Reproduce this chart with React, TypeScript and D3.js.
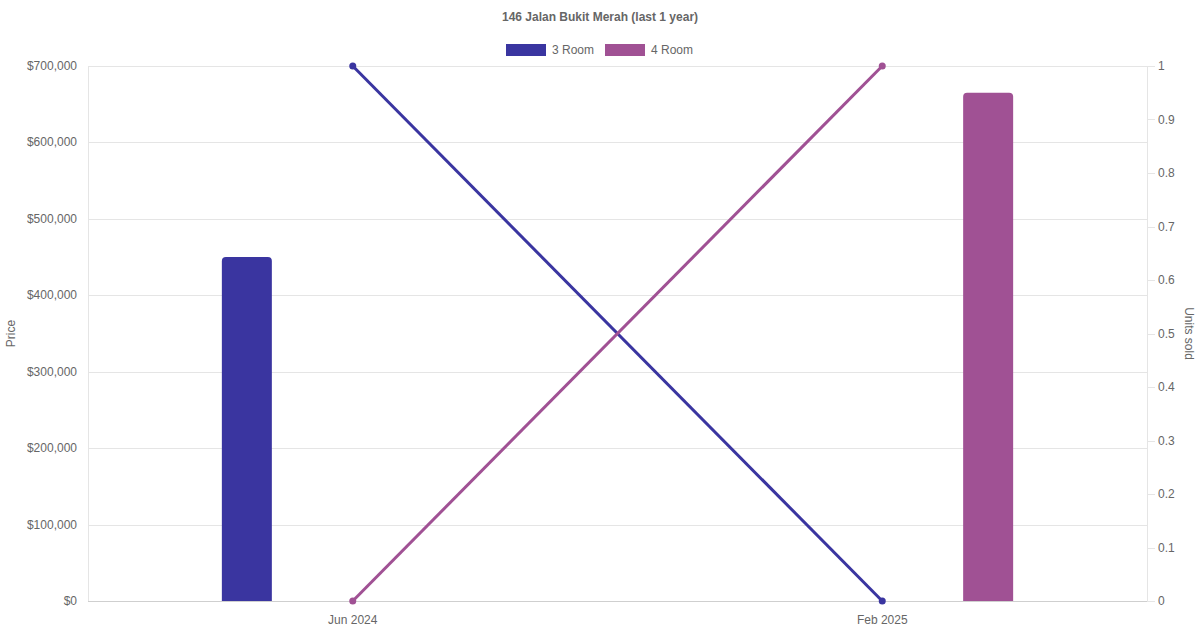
import React, { useEffect, useRef } from 'react';
import * as d3 from 'd3';

const categories = ['Jun 2024', 'Feb 2025'];
const seriesNames = ['3 Room', '4 Room'];
const seriesColors = ['#3a35a0', '#a05194'];
const priceThree: (number | null)[] = [450000, null];
const priceFour: (number | null)[] = [null, 665000];
const unitsThree = [1, 0];
const unitsFour = [0, 1];
const priceTicks = [0, 100000, 200000, 300000, 400000, 500000, 600000, 700000];
const unitTicks = [0, 0.1, 0.2, 0.3, 0.4, 0.5, 0.6, 0.7, 0.8, 0.9, 1];

const W = 1200;
const H = 630;
const FONT = '"Liberation Sans", Arial, Helvetica, sans-serif';

export default function App() {
  const svgRef = useRef<SVGSVGElement>(null);

  useEffect(() => {
    document.body.style.margin = '0';
    if (!svgRef.current) return;
    const svg = d3.select(svgRef.current);
    svg.selectAll('*').remove();

    const margin = { top: 66, right: 53, bottom: 29, left: 88 };
    const left = margin.left;
    const right = W - margin.right;
    const top = margin.top;
    const bottom = H - margin.bottom;

    const x = d3.scaleBand<string>().domain(categories).range([left, right]).padding(0);
    const cw = x.bandwidth();
    const inner = d3.scaleBand<string>().domain(seriesNames).range([0.1 * cw, 0.9 * cw]).padding(0);
    const barW = Math.min(50, inner.bandwidth() * 0.9);

    const yPrice = d3.scaleLinear().domain([0, 700000]).range([bottom, top]);
    const yUnits = d3.scaleLinear().domain([0, 1]).range([bottom, top]);

    // Title
    svg.append('text')
      .attr('x', W / 2).attr('y', 21)
      .attr('text-anchor', 'middle')
      .attr('font-family', FONT).attr('font-size', 12).attr('font-weight', 'bold')
      .attr('fill', '#666')
      .text('146 Jalan Bukit Merah (last 1 year)');

    // Legend
    const legend = svg.append('g');
    const legendX = [506, 605];
    seriesNames.forEach((name, i) => {
      legend.append('rect')
        .attr('x', legendX[i]).attr('y', 44).attr('width', 40).attr('height', 12)
        .attr('fill', seriesColors[i]);
      legend.append('text')
        .attr('x', legendX[i] + 46).attr('y', 54)
        .attr('font-family', FONT).attr('font-size', 12).attr('fill', '#666')
        .text(name);
    });

    // Grid lines (left axis)
    svg.append('g')
      .selectAll('line')
      .data(priceTicks)
      .enter()
      .append('line')
      .attr('x1', left).attr('x2', right)
      .attr('y1', d => Math.round(yPrice(d)) + 0.5).attr('y2', d => Math.round(yPrice(d)) + 0.5)
      .attr('stroke', d => (d === 0 ? '#cfcfcf' : '#e5e5e5'))
      .attr('stroke-width', 1);

    // Left axis line
    svg.append('line')
      .attr('x1', left + 0.5).attr('x2', left + 0.5)
      .attr('y1', top).attr('y2', bottom)
      .attr('stroke', '#e5e5e5');

    // Right axis line + ticks
    svg.append('line')
      .attr('x1', right + 0.5).attr('x2', right + 0.5)
      .attr('y1', top).attr('y2', bottom)
      .attr('stroke', '#e5e5e5');
    svg.append('g')
      .selectAll('line')
      .data(unitTicks)
      .enter()
      .append('line')
      .attr('x1', right).attr('x2', right + 8)
      .attr('y1', d => Math.round(yUnits(d)) + 0.5).attr('y2', d => Math.round(yUnits(d)) + 0.5)
      .attr('stroke', '#e5e5e5');

    // Left tick labels
    svg.append('g')
      .selectAll('text')
      .data(priceTicks)
      .enter()
      .append('text')
      .attr('x', left - 11).attr('y', d => yPrice(d) + 4)
      .attr('text-anchor', 'end')
      .attr('font-family', FONT).attr('font-size', 12).attr('fill', '#666')
      .text(d => '$' + d3.format(',')(d));

    // Right tick labels
    svg.append('g')
      .selectAll('text')
      .data(unitTicks)
      .enter()
      .append('text')
      .attr('x', right + 11).attr('y', d => yUnits(d) + 4)
      .attr('font-family', FONT).attr('font-size', 12).attr('fill', '#666')
      .text(d => d3.format('~g')(d));

    // Bottom labels
    svg.append('g')
      .selectAll('text')
      .data(categories)
      .enter()
      .append('text')
      .attr('x', d => (x(d) as number) + cw / 2).attr('y', bottom + 23)
      .attr('text-anchor', 'middle')
      .attr('font-family', FONT).attr('font-size', 12).attr('fill', '#666')
      .text(d => d);

    // Axis titles
    svg.append('text')
      .attr('transform', `translate(15,${(top + bottom) / 2}) rotate(-90)`)
      .attr('text-anchor', 'middle')
      .attr('font-family', FONT).attr('font-size', 12).attr('fill', '#666')
      .text('Price');
    svg.append('text')
      .attr('transform', `translate(1185,${(top + bottom) / 2}) rotate(90)`)
      .attr('text-anchor', 'middle')
      .attr('font-family', FONT).attr('font-size', 12).attr('fill', '#666')
      .text('Units sold');

    // Bars
    const barSeries = [priceThree, priceFour];
    const r = 4;
    barSeries.forEach((vals, si) => {
      vals.forEach((v, ci) => {
        if (v == null) return;
        const cx = (x(categories[ci]) as number) + (inner(seriesNames[si]) as number) + inner.bandwidth() / 2;
        const x0 = cx - barW / 2;
        const x1 = cx + barW / 2;
        const y0 = yPrice(v);
        const y1 = yPrice(0);
        const p = d3.path();
        p.moveTo(x0, y1);
        p.lineTo(x0, y0 + r);
        p.quadraticCurveTo(x0, y0, x0 + r, y0);
        p.lineTo(x1 - r, y0);
        p.quadraticCurveTo(x1, y0, x1, y0 + r);
        p.lineTo(x1, y1);
        p.closePath();
        svg.append('path').attr('d', p.toString()).attr('fill', seriesColors[si]);
      });
    });

    // Lines
    const lineSeries = [unitsThree, unitsFour];
    const line = d3.line<number>()
      .x((_, i) => (x(categories[i]) as number) + cw / 2)
      .y(d => yUnits(d));
    lineSeries.forEach((vals, si) => {
      svg.append('path')
        .attr('d', line(vals) as string)
        .attr('fill', 'none')
        .attr('stroke', seriesColors[si])
        .attr('stroke-width', 3);
      svg.append('g')
        .selectAll('circle')
        .data(vals)
        .enter()
        .append('circle')
        .attr('cx', (_, i) => (x(categories[i]) as number) + cw / 2)
        .attr('cy', d => yUnits(d))
        .attr('r', 3.5)
        .attr('fill', seriesColors[si]);
    });
  }, []);

  return <svg ref={svgRef} width={W} height={H} style={{ display: 'block', background: '#fff' }} />;
}
